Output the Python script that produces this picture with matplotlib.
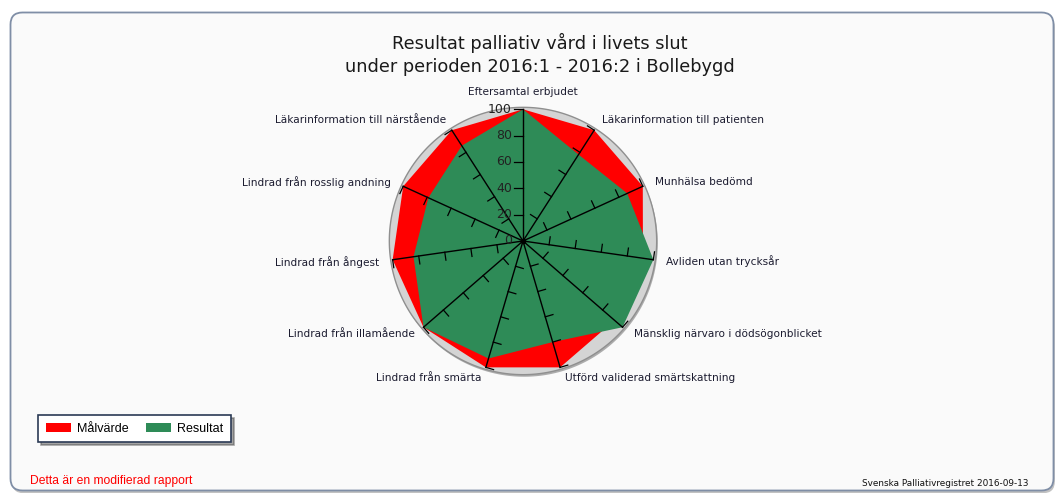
import numpy as np
import matplotlib.pyplot as plt
import matplotlib.patheffects as pe
from matplotlib.patches import FancyBboxPatch, Patch

# data
categories = ['Eftersamtal erbjudet', 'Läkarinformation till patienten',
              'Munhälsa bedömd', 'Avliden utan trycksår',
              'Mänsklig närvaro i dödsögonblicket', 'Utförd validerad smärtskattning',
              'Lindrad från smärta', 'Lindrad från illamående', 'Lindrad från ångest',
              'Lindrad från rosslig andning', 'Läkarinformation till närstående']
malvarde = [100, 100, 100, 92, 92, 100, 100, 100, 100, 100, 100]
resultat = [100, 78, 87, 100, 100, 80, 93, 100, 84, 79, 86]
r_ticks = [0, 20, 40, 60, 80, 100]

# label offsets (pixels) and alignment around the web
label_offsets = [(0, 17), (8, 10), (12, 4), (13, -1), (11, -7), (5, -11),
                 (-4, -11), (-9, -7), (-13, -2), (-12, 4), (-6, 10)]
label_ha = ['center', 'left', 'left', 'left', 'left', 'left',
            'right', 'right', 'right', 'right', 'right']

W, H = 1055, 493
fig = plt.figure(figsize=(W / 100, H / 100), dpi=100)
fig.patch.set_facecolor('white')

# background frame
bg = fig.add_axes([0, 0, 1, 1], zorder=-5)
bg.set_xlim(0, W)
bg.set_ylim(H, 0)
bg.set_axis_off()
frame = FancyBboxPatch((10.5, 12.5), 1043, 478, boxstyle='round,pad=0,rounding_size=12',
                       facecolor='#fafafa', edgecolor='#7f8ea6', lw=1.3,
                       path_effects=[pe.withSimplePatchShadow(offset=(1, -2), shadow_rgbFace='#9a9a9a', alpha=0.6)])
bg.add_patch(frame)

# radar axes
cx, cy = 523, 241
R = 131.7
rmax = 108
rp = R * rmax / 100
ax = fig.add_axes([(cx - rp) / W, (H - cy - rp) / H, 2 * rp / W, 2 * rp / H], projection='polar')
ax.set_theta_zero_location('N')
ax.set_theta_direction(-1)
ax.set_ylim(0, rmax)
ax.set_axis_off()

n = len(categories)
theta = np.arange(n) * 2 * np.pi / n
tt = np.linspace(0, 2 * np.pi, 361)
ax.fill(tt, np.full_like(tt, 101.5), facecolor='#d4d4d4', edgecolor='#8f8f8f', lw=1.0,
        path_effects=[pe.withSimplePatchShadow(offset=(0.8, -1.5), shadow_rgbFace='#999999', alpha=0.8)])

th_closed = np.append(theta, theta[0])
ax.fill(th_closed, malvarde + malvarde[:1], color='#ff0000', lw=0)
ax.fill(th_closed, resultat + resultat[:1], color='#2e8b57', lw=0)

# spokes with ticks on the counter-clockwise side
for i, t in enumerate(theta):
    ax.plot([t, t], [0, 100], color='black', lw=1.0)
    L = (8 if i > 0 else 9) / R * 100
    for r in r_ticks[1:]:
        ax.plot([t, t - np.arctan(L / r)], [r, np.hypot(r, L)], color='black', lw=0.9)
ax.plot(0, 0, 'o', color='black', ms=3)

for r in r_ticks:
    ax.annotate(str(r), xy=(0, r), xytext=(-11, 0), textcoords='offset pixels',
                ha='right', va='center', fontsize=9, color='#222222')

for i, t in enumerate(theta):
    ax.annotate(categories[i], xy=(t, 100), xytext=label_offsets[i], textcoords='offset pixels',
                ha=label_ha[i], va='center', fontsize=7.6, color='#1c1c30', annotation_clip=False)

fig.text(540 / W, 1 - 54.5 / H, 'Resultat palliativ vård i livets slut\nunder perioden 2016:1 - 2016:2 i Bollebygd',
         ha='center', va='center', fontsize=12.8, color='#1a1a1a', linespacing=1.3)

handles = [Patch(facecolor='#ff0000'), Patch(facecolor='#2e8b57')]
leg = fig.legend(handles, ['Målvärde', 'Resultat'], ncol=2, loc='upper left',
                 bbox_to_anchor=(38 / W, 1 - 415 / H), frameon=True, fancybox=False, shadow=True,
                 edgecolor='#2b3a55', prop={'family': 'Liberation Sans', 'size': 9},
                 handlelength=2.0, handleheight=0.85, columnspacing=1.4, handletextpad=0.5,
                 borderpad=0.6, borderaxespad=0)
leg.get_frame().set_linewidth(1.2)

fig.text(30 / W, 1 - 481 / H, 'Detta är en modifierad rapport', ha='left', va='center',
         fontsize=8.7, color='#ff0000', family='Liberation Sans')
fig.text(1028 / W, 1 - 483 / H, 'Svenska Palliativregistret 2016-09-13', ha='right', va='center',
         fontsize=6.4, color='#111111')

fig.savefig('out.png', dpi=100)
